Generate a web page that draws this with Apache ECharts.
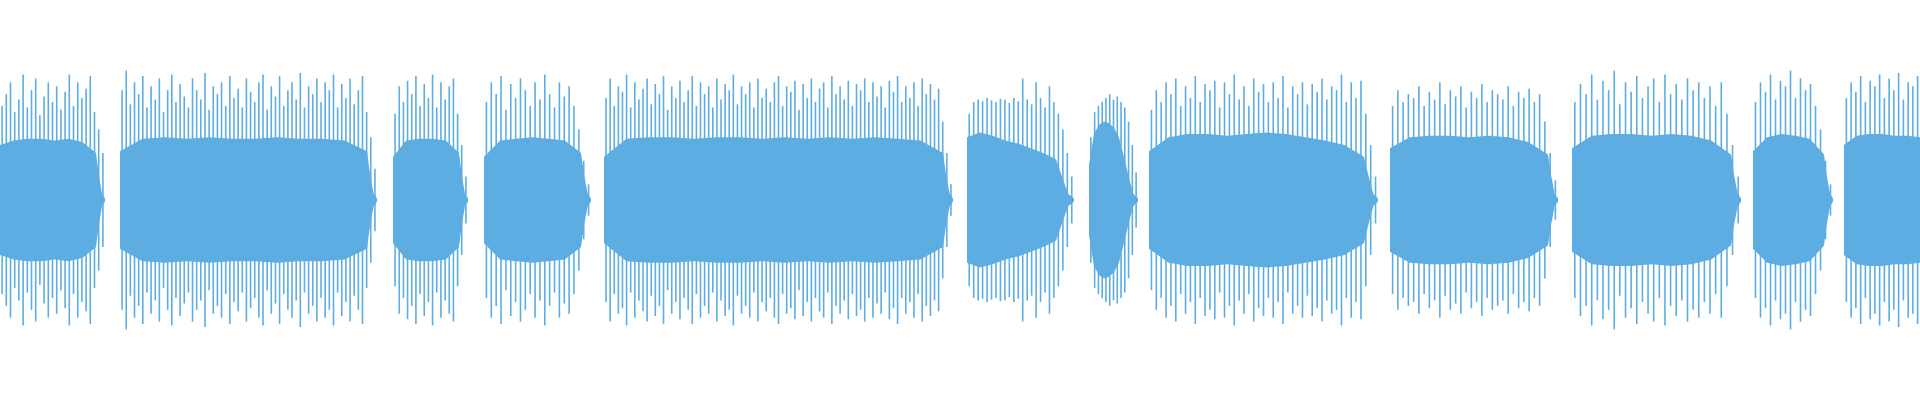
<!DOCTYPE html>
<html>
<head>
<meta charset="utf-8">
<script src="https://cdn.jsdelivr.net/npm/echarts@6/dist/echarts.min.js"></script>
<style>html,body{margin:0;padding:0;background:#fff}#chart{width:1920px;height:400px}</style>
</head>
<body>
<div id="chart"></div>
<script>
// Waveform bursts: start/end x, solid core envelope (body), short fade-out tail, spike peaks
var segStart = [0, 120, 393, 484, 604, 967, 1089, 1149, 1390, 1572, 1753, 1844];
var segEnd   = [105, 377, 468, 591, 953, 1074, 1138, 1378, 1558, 1741, 1833, 1920];
var tailLen  = [9, 10, 9, 10, 10, 18, 14, 14, 10, 10, 9, 0];
var tailEnv  = [30, 8, 2];

var coreEnv = [
  [70, 76, 78, 78, 76, 78, 74, 60],
  [62, 78, 80, 78, 80, 78, 78, 80, 78, 78, 76, 62],
  [55, 76, 78, 78, 76, 60],
  [55, 76, 78, 80, 78, 76, 60],
  [55, 78, 80, 80, 78, 80, 80, 78, 80, 78, 80, 78, 80, 78, 76, 60],
  [80, 86, 82, 76, 72, 66, 60, 52],
  [45, 84, 96, 100, 98, 92, 80, 55],
  [62, 80, 84, 84, 82, 84, 86, 84, 80, 76, 70, 55],
  [66, 80, 82, 82, 80, 82, 80, 74, 58],
  [66, 82, 84, 84, 82, 84, 82, 76, 58],
  [62, 80, 84, 82, 78, 58],
  [70, 82, 84, 84, 82, 82, 80]
];

var spikes = [
  [120, 135, 150, 112, 128, 160, 118, 140, 155, 108, 132, 150, 125, 145, 115, 138, 160, 120, 150, 130, 142, 158, 112, 90, 60],
  [140, 165, 122, 150, 135, 158, 118, 145, 128, 155, 112, 140, 160, 125, 148, 132, 118, 155, 140, 128, 162, 115, 145, 135, 150, 120, 158, 130, 142, 118, 155, 138, 125, 150, 160, 115, 145, 132, 158, 120, 140, 150, 128, 162, 118, 145, 135, 155, 125, 150, 140, 160, 118, 148, 130, 155, 122, 140, 158, 112, 80, 40],
  [110, 145, 125, 152, 135, 158, 120, 148, 130, 160, 118, 150, 128, 145, 155, 110, 70, 30],
  [125, 150, 135, 158, 115, 148, 130, 155, 140, 120, 150, 128, 160, 135, 118, 150, 132, 145, 120, 90, 50, 20],
  [130, 155, 120, 145, 138, 160, 118, 150, 128, 142, 155, 122, 148, 135, 158, 115, 145, 130, 152, 125, 140, 158, 120, 150, 135, 145, 118, 155, 128, 148, 140, 160, 122, 145, 135, 150, 118, 155, 130, 142, 125, 150, 158, 120, 145, 138, 152, 115, 148, 130, 155, 125, 142, 150, 118, 158, 135, 145, 128, 152, 120, 148, 140, 155, 125, 150, 132, 145, 118, 152, 138, 158, 125, 145, 130, 150, 120, 155, 135, 148, 128, 142, 100, 60, 20],
  [110, 125, 128, 126, 130, 127, 125, 129, 128, 124, 130, 126, 155, 128, 122, 150, 130, 118, 145, 125, 110, 90, 60, 30],
  [80, 112, 120, 125, 130, 135, 128, 132, 125, 118, 100, 70, 35],
  [115, 140, 125, 150, 135, 155, 120, 145, 130, 158, 125, 148, 140, 152, 118, 150, 135, 160, 128, 145, 120, 155, 138, 148, 125, 150, 130, 158, 118, 145, 135, 150, 122, 148, 138, 155, 128, 145, 140, 160, 125, 150, 130, 152, 110, 70, 30],
  [120, 140, 125, 135, 130, 145, 120, 138, 128, 150, 122, 140, 132, 145, 118, 138, 130, 148, 125, 140, 135, 128, 145, 120, 138, 130, 142, 125, 135, 100, 60, 25],
  [125, 148, 135, 160, 128, 152, 140, 165, 122, 150, 138, 158, 130, 145, 155, 125, 160, 135, 148, 128, 155, 140, 150, 130, 145, 120, 150, 110, 70, 30],
  [125, 150, 138, 160, 128, 152, 145, 165, 130, 155, 140, 148, 120, 90, 50, 20],
  [130, 150, 138, 158, 125, 152, 145, 160, 130, 155, 140, 162, 128, 150, 145, 158]
];

var color = '#5dade2';

// build data rows from the arrays
var coreData = [];
var spikeData = [];
segStart.forEach(function (s, i) {
  var e = segEnd[i];
  var bodyEnd = e - tailLen[i];
  var env = coreEnv[i];
  env.forEach(function (v, k) {
    coreData.push([i, s + (bodyEnd - s) * k / (env.length - 1), v]);
  });
  if (tailLen[i] > 0) {
    tailEnv.forEach(function (v, k) {
      coreData.push([i, bodyEnd + tailLen[i] * (k + 1) / tailEnv.length, v]);
    });
  }
  var sp = spikes[i];
  sp.forEach(function (v, k) {
    spikeData.push([s + (e - s) * (k + 0.5) / sp.length, v]);
  });
});

var chart = echarts.init(document.getElementById('chart'));
chart.setOption({
  animation: false,
  grid: { left: 0, right: 0, top: 0, bottom: 0 },
  xAxis: { type: 'value', min: 0, max: 1920, show: false },
  yAxis: { type: 'value', min: -255, max: 255, show: false },
  series: [
    {
      type: 'custom',
      coordinateSystem: 'cartesian2d',
      data: segStart.map(function (s, i) { return [i]; }),
      renderItem: function (params, api) {
        var i = api.value(0);
        var pts = coreData.filter(function (d) { return d[0] === i; });
        var top = pts.map(function (d) { return api.coord([d[1], d[2]]); });
        var bot = pts.slice().reverse().map(function (d) { return api.coord([d[1], -d[2]]); });
        return { type: 'polygon', shape: { points: top.concat(bot) }, style: { fill: color } };
      }
    },
    {
      type: 'custom',
      coordinateSystem: 'cartesian2d',
      data: spikeData,
      renderItem: function (params, api) {
        var a = api.coord([api.value(0), api.value(1)]);
        var b = api.coord([api.value(0), -api.value(1)]);
        return { type: 'rect', shape: { x: a[0] - 0.8, y: a[1], width: 1.6, height: b[1] - a[1] }, style: { fill: color } };
      }
    }
  ]
});
</script>
</body>
</html>
